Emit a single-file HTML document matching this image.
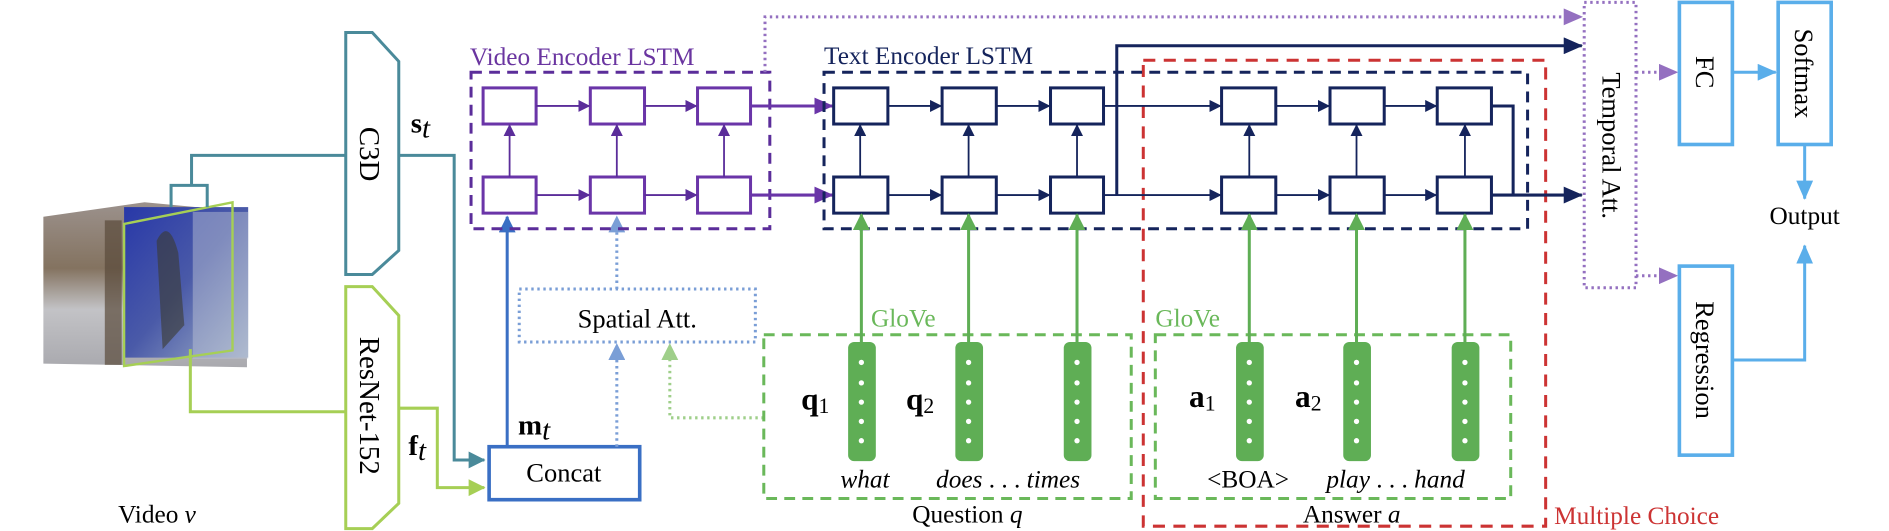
<!DOCTYPE html>
<html><head><meta charset="utf-8"><style>
html,body{margin:0;padding:0;background:#fff}
svg{display:block}
svg text{font-family:"Liberation Serif","DejaVu Serif","Times New Roman",Times,serif !important}
</style></head><body>
<svg width="1889" height="531" viewBox="0 0 1568 441" preserveAspectRatio="none" xmlns="http://www.w3.org/2000/svg" font-family="'Liberation Serif', 'DejaVu Serif', serif">
<defs>
<marker id="an" markerWidth="10" markerHeight="10" refX="9" refY="5" orient="auto" markerUnits="userSpaceOnUse"><path d="M0,0 L10,5 L0,10z" fill="#15245c"/></marker>
<marker id="anb" markerWidth="16" markerHeight="14" refX="15" refY="7" orient="auto" markerUnits="userSpaceOnUse"><path d="M0,0 L16,7 L0,14z" fill="#15245c"/></marker>
<marker id="ap" markerWidth="10" markerHeight="10" refX="9" refY="5" orient="auto" markerUnits="userSpaceOnUse"><path d="M0,0 L10,5 L0,10z" fill="#5b2d9a"/></marker>
<marker id="apb" markerWidth="16" markerHeight="14" refX="15" refY="7" orient="auto" markerUnits="userSpaceOnUse"><path d="M0,0 L16,7 L0,14z" fill="#6a35a8"/></marker>
<marker id="apl" markerWidth="16" markerHeight="14" refX="15" refY="7" orient="auto" markerUnits="userSpaceOnUse"><path d="M0,0 L16,7 L0,14z" fill="#9470c0"/></marker>
<marker id="ag" markerWidth="14" markerHeight="14" refX="13" refY="7" orient="auto" markerUnits="userSpaceOnUse"><path d="M0,0 L14,7 L0,14z" fill="#5fae55"/></marker>
<marker id="agl" markerWidth="14" markerHeight="14" refX="13" refY="7" orient="auto" markerUnits="userSpaceOnUse"><path d="M0,0 L14,7 L0,14z" fill="#9fcf8a"/></marker>
<marker id="alg" markerWidth="14" markerHeight="14" refX="13" refY="7" orient="auto" markerUnits="userSpaceOnUse"><path d="M0,0 L14,7 L0,14z" fill="#a6cf55"/></marker>
<marker id="at" markerWidth="14" markerHeight="14" refX="13" refY="7" orient="auto" markerUnits="userSpaceOnUse"><path d="M0,0 L14,7 L0,14z" fill="#4a8a9a"/></marker>
<marker id="ab" markerWidth="14" markerHeight="14" refX="13" refY="7" orient="auto" markerUnits="userSpaceOnUse"><path d="M0,0 L14,7 L0,14z" fill="#3a6fc4"/></marker>
<marker id="abl" markerWidth="14" markerHeight="14" refX="13" refY="7" orient="auto" markerUnits="userSpaceOnUse"><path d="M0,0 L14,7 L0,14z" fill="#7a9ed6"/></marker>
<marker id="asb" markerWidth="16" markerHeight="14" refX="15" refY="7" orient="auto" markerUnits="userSpaceOnUse"><path d="M0,0 L16,7 L0,14z" fill="#5aaeea"/></marker>
<linearGradient id="gr" x1="0" y1="0" x2="0" y2="1"><stop offset="0" stop-color="#8a7e78"/><stop offset="0.4" stop-color="#6e5a44"/><stop offset="0.65" stop-color="#b8b8bc"/><stop offset="1" stop-color="#9a9aa0"/></linearGradient>
<linearGradient id="bl" x1="0" y1="0" x2="1" y2="1"><stop offset="0" stop-color="#2838a8"/><stop offset="0.5" stop-color="#4a5aa8"/><stop offset="1" stop-color="#a0b0c8"/></linearGradient>
</defs>

<path d="M36,180 L120,168 L205,176 L205,305 L36,302z" fill="url(#gr)" opacity="0.85"/>
<rect x="87" y="183" width="14" height="120" fill="#5a4a3a" opacity="0.7"/>
<rect x="103" y="172" width="103" height="125" fill="url(#bl)"/>
<rect x="160" y="176" width="46" height="122" fill="#c0c8d8" opacity="0.45"/>
<path d="M103,186 L193,168 L193,291 L103,304z" fill="none" stroke="#a6cf55" stroke-width="2"/>
<path d="M130,200 q10,-20 18,10 l5,60 l-18,20z" fill="#3a3a30" opacity="0.6"/>

<g fill="none" stroke="#4a8a9a" stroke-width="2.5">
<path d="M287,129 H159 V154"/>
<path d="M142,172 V154 H172 V172"/>
<path d="M331,129 H377 V382 H402" marker-end="url(#at)"/>
</g>
<g fill="none" stroke="#a6cf55" stroke-width="2.5">
<path d="M158,290 V342 H287"/>
<path d="M331,339 H363 V405 H402" marker-end="url(#alg)"/>
</g>
<path d="M287,27 H309 L331,51 V208 L309,228 H287z" fill="#fff" stroke="#4a8a9a" stroke-width="2.5"/>
<text transform="translate(299,128) rotate(90)" font-size="24" text-anchor="middle">C3D</text>
<path d="M287,238 H309 L331,262 V418 L309,439 H287z" fill="#fff" stroke="#a6cf55" stroke-width="2.5"/>
<text transform="translate(299,337) rotate(90)" font-size="24" text-anchor="middle">ResNet-152</text>

<text x="341" y="110" font-size="24" font-weight="bold">s<tspan font-style="italic" font-weight="normal" dy="4">t</tspan></text>
<text x="339" y="378" font-size="24" font-weight="bold">f<tspan font-style="italic" font-weight="normal" dy="4">t</tspan></text>
<text x="430" y="361" font-size="24" font-weight="bold">m<tspan font-style="italic" font-weight="normal" dy="4">t</tspan></text>
<text x="98" y="434" font-size="21">Video <tspan font-style="italic">v</tspan></text>

<rect x="406" y="371" width="125" height="44" fill="#fff" stroke="#3a6fc4" stroke-width="3"/>
<text x="468" y="400" font-size="22" text-anchor="middle">Concat</text>
<path d="M421,371 V180" stroke="#3a6fc4" stroke-width="2.5" fill="none" marker-end="url(#ab)"/>
<g stroke="#7a9ed6" stroke-width="2.5" stroke-dasharray="2,3" fill="none">
<path d="M512,371 V286" marker-end="url(#abl)"/>
<path d="M512,240 V180" marker-end="url(#abl)"/>
<rect x="431" y="240" width="196" height="44"/>
</g>
<text x="529" y="272" font-size="22" text-anchor="middle">Spatial Att.</text>
<path d="M634,347 H556 V286" stroke="#9fcf8a" stroke-width="2.5" stroke-dasharray="2,3" fill="none" marker-end="url(#agl)"/>

<text x="390" y="54" font-size="21" fill="#6a35a0">Video Encoder LSTM</text>
<rect x="391" y="60" width="248" height="130" fill="none" stroke="#5b2d9a" stroke-width="2.5" stroke-dasharray="9,6"/>
<g fill="#fff" stroke="#6a35a8" stroke-width="2.5">
<rect x="401" y="73" width="44" height="30"/><rect x="490" y="73" width="45" height="30"/><rect x="579" y="73" width="44" height="30"/>
<rect x="401" y="147" width="44" height="30"/><rect x="490" y="147" width="45" height="30"/><rect x="579" y="147" width="44" height="30"/>
</g>
<g stroke="#5b2d9a" stroke-width="1.5" fill="none">
<path d="M445,88 H489" marker-end="url(#ap)"/><path d="M535,88 H578" marker-end="url(#ap)"/>
<path d="M445,162 H489" marker-end="url(#ap)"/><path d="M535,162 H578" marker-end="url(#ap)"/>
<path d="M423,147 V104" marker-end="url(#ap)"/><path d="M512,147 V104" marker-end="url(#ap)"/><path d="M601,147 V104" marker-end="url(#ap)"/>
</g>
<g stroke="#6a35a8" stroke-width="2.5" fill="none">
<path d="M623,88 H691" marker-end="url(#apb)"/><path d="M623,162 H691" marker-end="url(#apb)"/>
</g>

<path d="M635,60 V14 H1313" stroke="#9470c0" stroke-width="2.5" stroke-dasharray="2,3" fill="none" marker-end="url(#apl)"/>

<rect x="949" y="50" width="334" height="387" fill="none" stroke="#cc3333" stroke-width="2.5" stroke-dasharray="10,7"/>
<text x="1290" y="435" font-size="21" fill="#cc3333">Multiple Choice</text>

<text x="684" y="53" font-size="21" fill="#15245c">Text Encoder LSTM</text>
<rect x="684" y="60" width="584" height="130" fill="none" stroke="#15245c" stroke-width="2.5" stroke-dasharray="9,6"/>
<g stroke="#15245c" stroke-width="1.5" fill="none">
<path d="M737,88 H781" marker-end="url(#an)"/><path d="M827,88 H871" marker-end="url(#an)"/>
<path d="M737,162 H781" marker-end="url(#an)"/><path d="M827,162 H871" marker-end="url(#an)"/>
<path d="M916,88 H1013" marker-end="url(#an)"/><path d="M916,162 H1013" marker-end="url(#an)"/>
<path d="M1059,88 H1103" marker-end="url(#an)"/><path d="M1149,88 H1192" marker-end="url(#an)"/>
<path d="M1059,162 H1103" marker-end="url(#an)"/><path d="M1149,162 H1192" marker-end="url(#an)"/>
<path d="M714,147 V104" marker-end="url(#an)"/><path d="M804,147 V104" marker-end="url(#an)"/><path d="M894,147 V104" marker-end="url(#an)"/>
<path d="M1037,147 V104" marker-end="url(#an)"/><path d="M1126,147 V104" marker-end="url(#an)"/><path d="M1216,147 V104" marker-end="url(#an)"/>
</g>
<g stroke="#15245c" stroke-width="2.5" fill="none">
<path d="M927,162 V38 H1313" marker-end="url(#anb)"/>
<path d="M1238,88 H1256 V162"/>
<path d="M1238,162 H1313" marker-end="url(#anb)"/>
</g>
<g fill="#fff" stroke="#15245c" stroke-width="2.5">
<rect x="692" y="73" width="45" height="30"/><rect x="782" y="73" width="45" height="30"/><rect x="872" y="73" width="44" height="30"/>
<rect x="692" y="147" width="45" height="30"/><rect x="782" y="147" width="45" height="30"/><rect x="872" y="147" width="44" height="30"/>
<rect x="1014" y="73" width="45" height="30"/><rect x="1104" y="73" width="45" height="30"/><rect x="1193" y="73" width="45" height="30"/>
<rect x="1014" y="147" width="45" height="30"/><rect x="1104" y="147" width="45" height="30"/><rect x="1193" y="147" width="45" height="30"/>
</g>

<g fill="none" stroke="#6ab85a" stroke-width="2.5" stroke-dasharray="9,6">
<rect x="634" y="278" width="305" height="136"/>
<rect x="959" y="278" width="295" height="136"/>
</g>
<g stroke="#5fae55" stroke-width="2.5" fill="none">
<path d="M715,284 V178" marker-end="url(#ag)"/><path d="M804,284 V178" marker-end="url(#ag)"/><path d="M894,284 V178" marker-end="url(#ag)"/>
<path d="M1037,284 V178" marker-end="url(#ag)"/><path d="M1126,284 V178" marker-end="url(#ag)"/><path d="M1216,284 V178" marker-end="url(#ag)"/>
</g>
<g fill="#5fae55">
<rect x="704" y="284" width="23" height="99" rx="5"/><rect x="793" y="284" width="23" height="99" rx="5"/><rect x="883" y="284" width="23" height="99" rx="5"/>
<rect x="1026" y="284" width="23" height="99" rx="5"/><rect x="1115" y="284" width="23" height="99" rx="5"/><rect x="1205" y="284" width="23" height="99" rx="5"/>
</g>
<g fill="#fff">
<circle cx="715" cy="301" r="2.2"/><circle cx="715" cy="318" r="2.2"/><circle cx="715" cy="334" r="2.2"/><circle cx="715" cy="350" r="2.2"/><circle cx="715" cy="366" r="2.2"/>
<circle cx="804" cy="301" r="2.2"/><circle cx="804" cy="318" r="2.2"/><circle cx="804" cy="334" r="2.2"/><circle cx="804" cy="350" r="2.2"/><circle cx="804" cy="366" r="2.2"/>
<circle cx="894" cy="301" r="2.2"/><circle cx="894" cy="318" r="2.2"/><circle cx="894" cy="334" r="2.2"/><circle cx="894" cy="350" r="2.2"/><circle cx="894" cy="366" r="2.2"/>
<circle cx="1037" cy="301" r="2.2"/><circle cx="1037" cy="318" r="2.2"/><circle cx="1037" cy="334" r="2.2"/><circle cx="1037" cy="350" r="2.2"/><circle cx="1037" cy="366" r="2.2"/>
<circle cx="1126" cy="301" r="2.2"/><circle cx="1126" cy="318" r="2.2"/><circle cx="1126" cy="334" r="2.2"/><circle cx="1126" cy="350" r="2.2"/><circle cx="1126" cy="366" r="2.2"/>
<circle cx="1216" cy="301" r="2.2"/><circle cx="1216" cy="318" r="2.2"/><circle cx="1216" cy="334" r="2.2"/><circle cx="1216" cy="350" r="2.2"/><circle cx="1216" cy="366" r="2.2"/>
</g>
<text x="723" y="271" font-size="21" fill="#6ab85a">GloVe</text>
<text x="959" y="271" font-size="21" fill="#6ab85a">GloVe</text>
<text x="665" y="340" font-size="26" font-weight="bold">q<tspan font-weight="normal" font-size="18" dy="3">1</tspan></text>
<text x="752" y="340" font-size="26" font-weight="bold">q<tspan font-weight="normal" font-size="18" dy="3">2</tspan></text>
<text x="987" y="338" font-size="26" font-weight="bold">a<tspan font-weight="normal" font-size="18" dy="3">1</tspan></text>
<text x="1075" y="338" font-size="26" font-weight="bold">a<tspan font-weight="normal" font-size="18" dy="3">2</tspan></text>
<g font-size="21" font-style="italic">
<text x="718" y="405" text-anchor="middle">what</text>
<text x="777" y="405">does<tspan font-style="normal"> . . . </tspan>times</text>
<text x="1101" y="405">play<tspan font-style="normal"> . . . </tspan>hand</text>
</g>
<text x="1036" y="405" font-size="21" text-anchor="middle">&lt;BOA&gt;</text>
<text x="803" y="434" font-size="21" text-anchor="middle">Question <tspan font-style="italic">q</tspan></text>
<text x="1122" y="434" font-size="21" text-anchor="middle">Answer <tspan font-style="italic">a</tspan></text>

<rect x="1315" y="2" width="43" height="237" fill="none" stroke="#9470c0" stroke-width="2.5" stroke-dasharray="2,3"/>
<text transform="translate(1330,121) rotate(90)" font-size="22" text-anchor="middle">Temporal Att.</text>
<g stroke="#9470c0" stroke-width="2.5" stroke-dasharray="2,3" fill="none">
<path d="M1358,60 H1392" marker-end="url(#apl)"/>
<path d="M1358,229 H1392" marker-end="url(#apl)"/>
</g>
<g fill="#fff" stroke="#5aaeea" stroke-width="3">
<rect x="1394" y="2" width="44" height="118"/>
<rect x="1476" y="2" width="44" height="118"/>
<rect x="1394" y="221" width="44" height="157"/>
</g>
<text transform="translate(1408,60) rotate(90)" font-size="22" text-anchor="middle">FC</text>
<text transform="translate(1490,61) rotate(90)" font-size="22" text-anchor="middle">Softmax</text>
<text transform="translate(1408,299) rotate(90)" font-size="22" text-anchor="middle">Regression</text>
<g stroke="#5aaeea" stroke-width="2.5" fill="none">
<path d="M1438,60 H1474" marker-end="url(#asb)"/>
<path d="M1498,120 V165" marker-end="url(#asb)"/>
<path d="M1438,299 H1498 V204" marker-end="url(#asb)"/>
</g>
<text x="1498" y="186" font-size="21" text-anchor="middle">Output</text>
</svg>
</body></html>
